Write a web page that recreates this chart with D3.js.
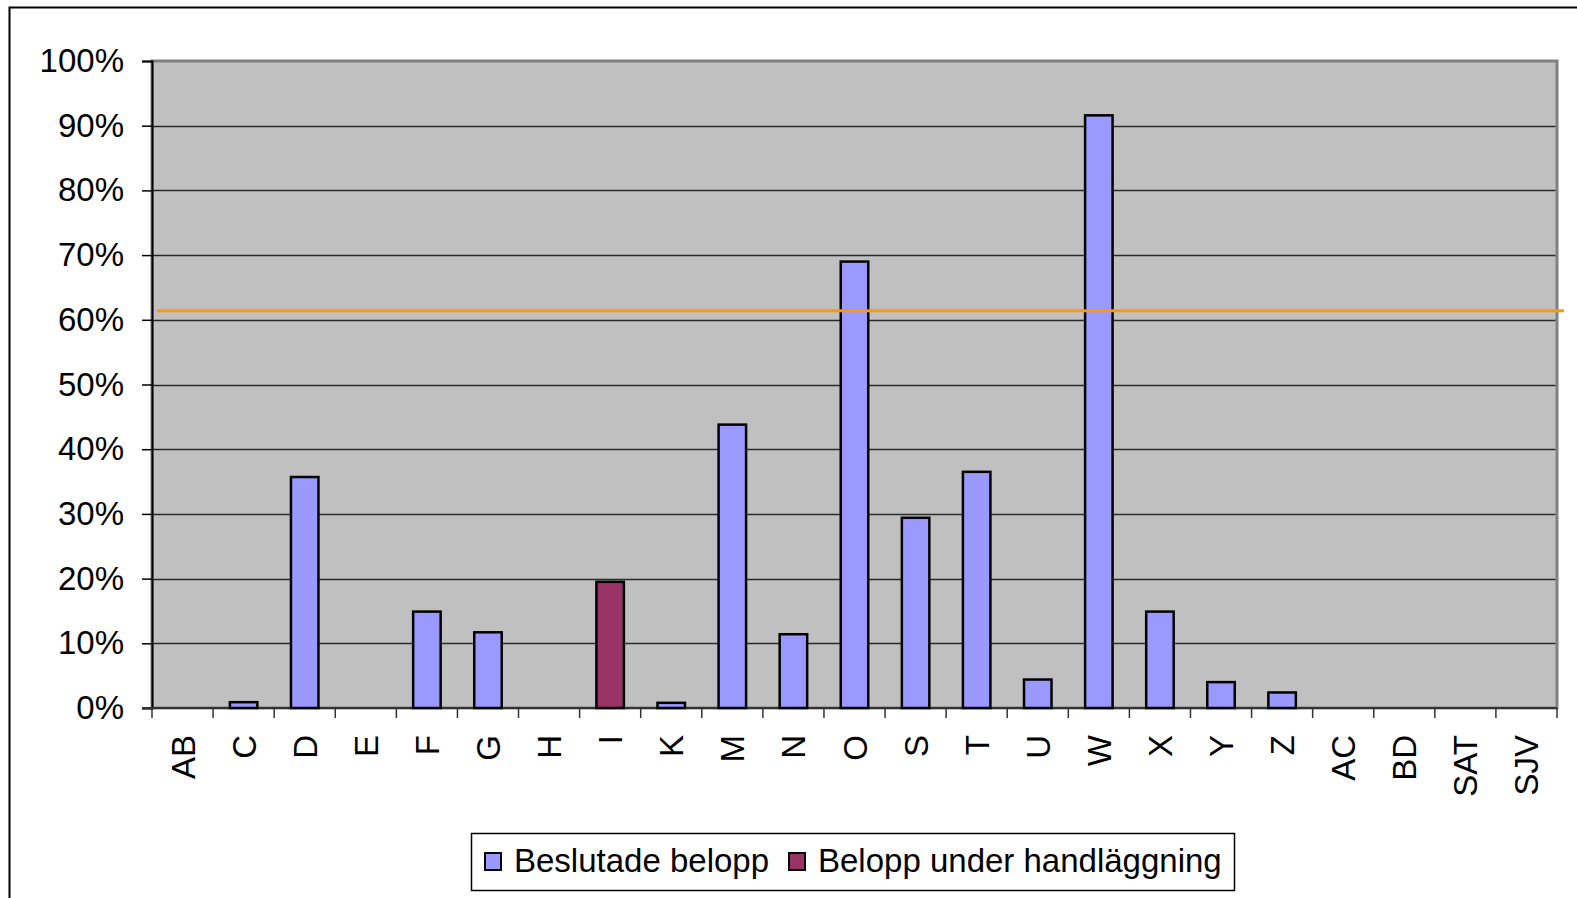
<!DOCTYPE html>
<html>
<head>
<meta charset="utf-8">
<script src="https://cdn.jsdelivr.net/npm/d3@7"></script>
<style>
  body { margin: 0; background: #fff; }
  svg { display: block; font-family: "Liberation Sans", Arial, sans-serif; }
</style>
</head>
<body>
<script>
// category codes along the x axis
const categories = ['AB','C','D','E','F','G','H','I','K','M','N','O','S','T','U','W','X','Y','Z','AC','BD','SAT','SJV']
// share per category, percent
const beslutade = [0, 0.9, 35.7, 0, 14.9, 11.7, 0, 0, 0.8, 43.8, 11.4, 69.0, 29.4, 36.5, 4.4, 91.6, 14.9, 4.0, 2.4, 0, 0, 0, 0]
const underHandlaggning = [0, 0, 0, 0, 0, 0, 0, 19.5, 0, 0, 0, 0, 0, 0, 0, 0, 0, 0, 0, 0, 0, 0, 0]
const yTicks = [0, 10, 20, 30, 40, 50, 60, 70, 80, 90, 100]
const referenceLine = 61.4
const seriesNames = ['Beslutade belopp', 'Belopp under handläggning']

var config = {
  width: 1577,
  height: 898,
  left: 152,
  right: 1557,
  top: 61,
  bottom: 708,
  fontSize: 33,
}

const colors = { beslutade: '#9999ff', under: '#993366' }

var svg = d3.select('body').append('svg')
  .attr('width', config.width)
  .attr('height', config.height)

// outer chart frame (only left and top edges visible)
svg.append('path')
  .attr('d', 'M9.5,' + config.height + ' V7.5 H' + config.width)
  .attr('fill', 'none')
  .attr('stroke', '#000')
  .attr('stroke-width', 2)

var x = d3.scaleBand()
  .domain(categories)
  .range([config.left, config.right])
  .paddingInner(0.55)
  .paddingOuter(0.275)

var xb = d3.scaleBand().domain(categories).range([config.left, config.right])

var y = d3.scaleLinear().domain([0, 100]).range([config.bottom, config.top])

// plot area
svg.append('rect')
  .attr('x', config.left)
  .attr('y', config.top)
  .attr('width', config.right - config.left)
  .attr('height', config.bottom - config.top)
  .attr('fill', '#c0c0c0')
  .attr('stroke', '#808080')
  .attr('stroke-width', 3)

// gridlines
svg.append('g')
  .selectAll('line')
  .data(yTicks.filter(d => d > 0 && d < 100))
  .join('line')
  .attr('x1', config.left)
  .attr('x2', config.right - 1.5)
  .attr('y1', d => Math.round(y(d)) + 0.5)
  .attr('y2', d => Math.round(y(d)) + 0.5)
  .attr('stroke', '#2a2a2a')
  .attr('stroke-width', 1.5)

// y axis
var yAxis = svg.append('g')
  .attr('transform', 'translate(' + config.left + ',0)')
  .call(d3.axisLeft(y).tickValues(yTicks).tickFormat(d => d + '%').tickSize(10).tickPadding(18))
yAxis.select('.domain').attr('stroke', '#000').attr('stroke-width', 2)
yAxis.selectAll('.tick line').attr('stroke', '#000').attr('stroke-width', 1.5)
yAxis.selectAll('text')
  .attr('font-size', config.fontSize)
  .attr('fill', '#000')
  .attr('font-family', '"Liberation Sans", Arial, sans-serif')

// x axis: ticks at the category boundaries
var xAxis = svg.append('g')
xAxis.append('line')
  .attr('x1', config.left - 10).attr('x2', config.right)
  .attr('y1', config.bottom).attr('y2', config.bottom)
  .attr('stroke', '#333').attr('stroke-width', 2)
xAxis.selectAll('line.tk')
  .data(categories.concat(['__end']))
  .join('line')
  .attr('class', 'tk')
  .attr('x1', (d, i) => config.left + i * xb.step())
  .attr('x2', (d, i) => config.left + i * xb.step())
  .attr('y1', config.bottom)
  .attr('y2', config.bottom + 10)
  .attr('stroke', '#333')
  .attr('stroke-width', 1.5)
xAxis.selectAll('text')
  .data(categories)
  .join('text')
  .attr('transform', d => 'translate(' + (xb(d) + xb.bandwidth() / 2 + 12) + ',' + (config.bottom + 27) + ') rotate(-90)')
  .attr('text-anchor', 'end')
  .attr('font-size', config.fontSize)
  .text(d => d)

// bars
const drawBars = (values, color) => {
  svg.append('g')
    .selectAll('rect')
    .data(categories.map((c, i) => ({ c, v: values[i] })).filter(d => d.v > 0))
    .join('rect')
    .attr('x', d => x(d.c))
    .attr('y', d => y(d.v))
    .attr('width', x.bandwidth())
    .attr('height', d => config.bottom - y(d.v))
    .attr('fill', color)
    .attr('stroke', '#000')
    .attr('stroke-width', 2.5)
}
drawBars(beslutade, colors.beslutade)
drawBars(underHandlaggning, colors.under)

// orange reference line
svg.append('line')
  .attr('x1', 157)
  .attr('x2', 1564)
  .attr('y1', y(referenceLine))
  .attr('y2', y(referenceLine))
  .attr('stroke', '#ff9900')
  .attr('stroke-width', 3)

// legend
var legend = svg.append('g')
legend.append('rect')
  .attr('x', 471.5).attr('y', 833.5)
  .attr('width', 763).attr('height', 57)
  .attr('fill', '#fff')
  .attr('stroke', '#000')
  .attr('stroke-width', 1.5)

const legendItems = [
  { name: seriesNames[0], color: colors.beslutade, x: 485 },
  { name: seriesNames[1], color: colors.under, x: 789 },
]
legendItems.forEach(d => {
  legend.append('rect')
    .attr('x', d.x).attr('y', 853)
    .attr('width', 16).attr('height', 17)
    .attr('fill', d.color)
    .attr('stroke', '#000')
    .attr('stroke-width', 2)
  legend.append('text')
    .attr('x', d.x + 29)
    .attr('y', 872)
    .attr('font-size', config.fontSize)
    .text(d.name)
})
</script>
</body>
</html>
